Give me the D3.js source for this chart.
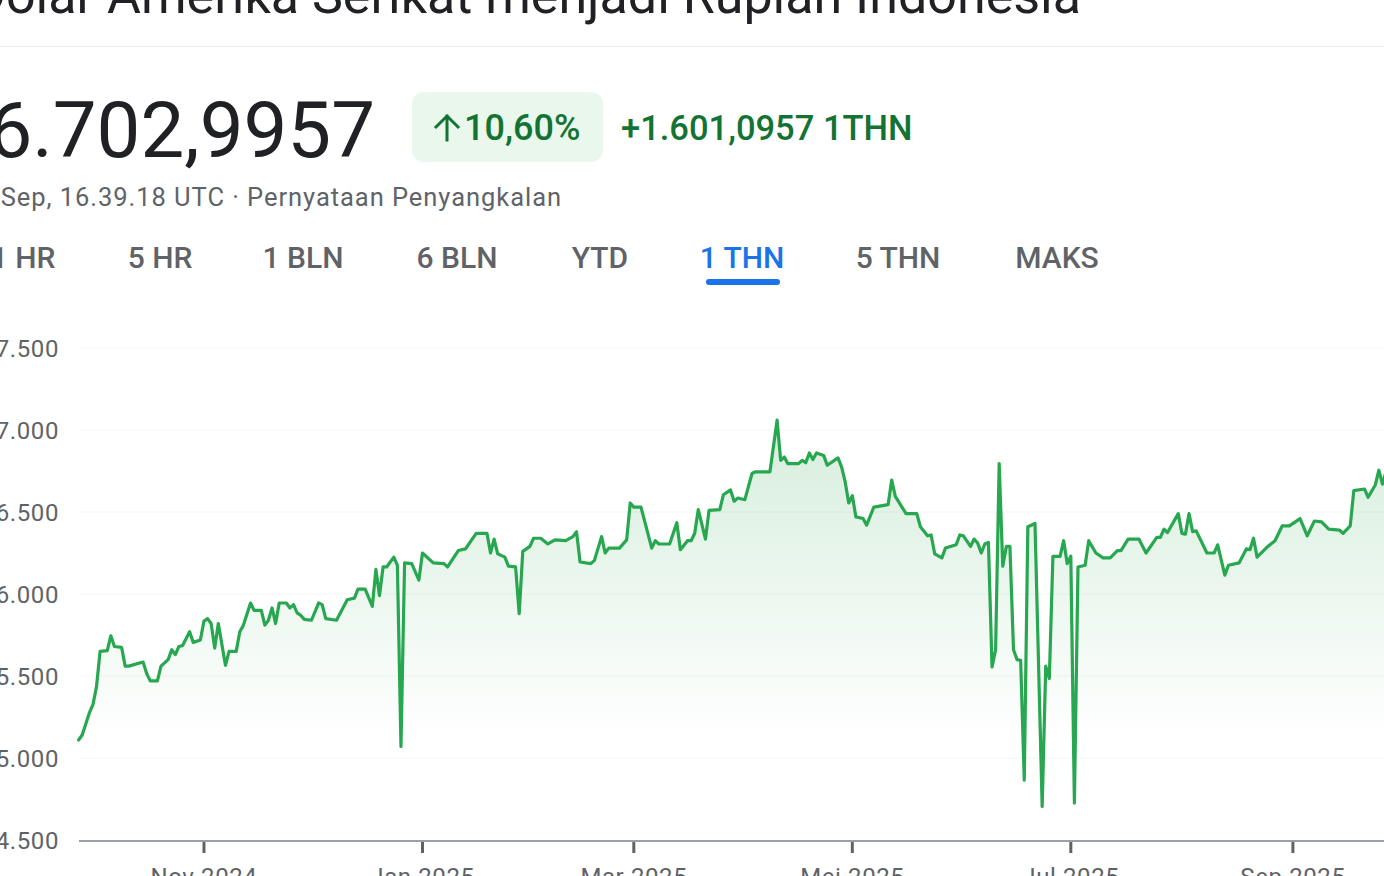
<!DOCTYPE html>
<html>
<head>
<meta charset="utf-8">
<script src="https://cdn.jsdelivr.net/npm/d3@7"></script>
<style>
  html, body { margin: 0; padding: 0; background: #fff; overflow: hidden; }
  svg { display: block; font-family: Roboto, "Noto Sans", sans-serif; }
</style>
</head>
<body>
<svg id="chart" width="1384" height="876"></svg>
<script>
// ---- data ----
const titleText = "Dolar Amerika Serikat menjadi Rupiah Indonesia";
const priceText = "16.702,9957";
const changePctText = "10,60%";
const changeAbsText = "+1.601,0957 1THN";
const subText = "26 Sep, 16.39.18 UTC · Pernyataan Penyangkalan";
const tabs = ["1 HR", "5 HR", "1 BLN", "6 BLN", "YTD", "1 THN", "5 THN", "MAKS"];
const activeTab = "1 THN";

const dates = [
"2024-09-27","2024-09-28","2024-09-30","2024-10-01","2024-10-02","2024-10-03","2024-10-05","2024-10-06","2024-10-07","2024-10-09",
"2024-10-10","2024-10-11","2024-10-15","2024-10-16","2024-10-17","2024-10-19","2024-10-20","2024-10-22","2024-10-23","2024-10-24",
"2024-10-25","2024-10-26","2024-10-28","2024-10-29","2024-10-31","2024-11-01","2024-11-02","2024-11-03","2024-11-04","2024-11-05",
"2024-11-07","2024-11-08","2024-11-10","2024-11-11","2024-11-12","2024-11-14","2024-11-15","2024-11-17","2024-11-18","2024-11-19",
"2024-11-20","2024-11-21","2024-11-22","2024-11-24","2024-11-25","2024-11-26","2024-11-27","2024-11-28","2024-11-29","2024-12-01",
"2024-12-03","2024-12-04","2024-12-05","2024-12-08","2024-12-11","2024-12-13","2024-12-14","2024-12-16","2024-12-18","2024-12-19",
"2024-12-20","2024-12-21","2024-12-22","2024-12-24","2024-12-25","2024-12-26","2024-12-27","2024-12-29","2024-12-31","2025-01-01",
"2025-01-04","2025-01-07","2025-01-08","2025-01-11","2025-01-13","2025-01-16","2025-01-19","2025-01-20","2025-01-21","2025-01-22",
"2025-01-24","2025-01-25","2025-01-27","2025-01-28","2025-01-29","2025-01-31","2025-02-01","2025-02-03","2025-02-05","2025-02-07",
"2025-02-10","2025-02-12","2025-02-13","2025-02-14","2025-02-17","2025-02-18","2025-02-20","2025-02-21","2025-02-22","2025-02-25",
"2025-02-27","2025-02-28","2025-03-01","2025-03-03","2025-03-06","2025-03-07","2025-03-08","2025-03-11","2025-03-13","2025-03-14",
"2025-03-16","2025-03-17","2025-03-18","2025-03-19","2025-03-21","2025-03-22","2025-03-25","2025-03-26","2025-03-28","2025-03-29",
"2025-03-30","2025-04-01","2025-04-03","2025-04-04","2025-04-08","2025-04-10","2025-04-11","2025-04-12","2025-04-13","2025-04-16",
"2025-04-17","2025-04-18","2025-04-19","2025-04-20","2025-04-21","2025-04-23","2025-04-24","2025-04-27","2025-04-28","2025-04-29",
"2025-04-30","2025-05-01","2025-05-02","2025-05-04","2025-05-05","2025-05-07","2025-05-11","2025-05-12","2025-05-13","2025-05-16",
"2025-05-19","2025-05-20","2025-05-22","2025-05-23","2025-05-24","2025-05-26","2025-05-27","2025-05-30","2025-05-31","2025-06-01",
"2025-06-03","2025-06-04","2025-06-05","2025-06-06","2025-06-07","2025-06-08","2025-06-09","2025-06-10","2025-06-11","2025-06-12",
"2025-06-13","2025-06-14","2025-06-15","2025-06-16","2025-06-17","2025-06-18","2025-06-19","2025-06-21","2025-06-23","2025-06-24",
"2025-06-25","2025-06-26","2025-06-28","2025-06-29","2025-06-30","2025-07-01","2025-07-02","2025-07-03","2025-07-05","2025-07-06",
"2025-07-08","2025-07-10","2025-07-12","2025-07-14","2025-07-15","2025-07-17","2025-07-20","2025-07-22","2025-07-25","2025-07-26",
"2025-07-27","2025-07-28","2025-07-31","2025-08-01","2025-08-02","2025-08-03","2025-08-04","2025-08-05","2025-08-08","2025-08-10",
"2025-08-11","2025-08-13","2025-08-14","2025-08-17","2025-08-19","2025-08-20","2025-08-21","2025-08-22","2025-08-25","2025-08-27",
"2025-08-29","2025-08-31","2025-09-03","2025-09-05","2025-09-07","2025-09-09","2025-09-11","2025-09-14","2025-09-15","2025-09-17",
"2025-09-18","2025-09-21","2025-09-22","2025-09-24","2025-09-25","2025-09-26","2025-09-27","2025-09-28"
];
const rates = [
15110,15140,15275,15325,15435,15650,15655,15745,15680,15675,
15560,15560,15585,15515,15470,15470,15560,15600,15660,15630,
15680,15685,15770,15705,15720,15835,15850,15820,15670,15820,
15565,15650,15650,15770,15810,15945,15900,15900,15810,15840,
15915,15820,15945,15945,15915,15935,15885,15870,15845,15840,
15945,15935,15850,15840,15965,15975,16030,16030,15925,16150,
15990,16165,16165,16225,16175,15070,16190,16185,16085,16250,
16190,16185,16165,16265,16275,16370,16370,16250,16335,16245,
16225,16170,16165,15880,16260,16290,16340,16340,16305,16330,
16325,16350,16380,16195,16185,16205,16350,16250,16280,16280,
16330,16555,16530,16530,16280,16325,16305,16305,16435,16270,
16325,16325,16370,16515,16335,16510,16515,16605,16635,16565,
16585,16575,16735,16745,16745,17060,16815,16835,16795,16795,
16815,16800,16860,16820,16860,16845,16785,16830,16775,16685,
16555,16600,16470,16460,16420,16530,16545,16695,16595,16490,
16490,16410,16355,16360,16245,16220,16280,16300,16360,16355,
16290,16335,16310,16250,16305,16315,15555,15660,16795,16170,
16290,16290,15660,15600,15595,14865,16410,16430,14705,15560,
15485,16230,16230,16325,16185,16230,14725,16165,16175,16325,
16250,16220,16220,16265,16265,16335,16335,16250,16345,16345,
16395,16375,16490,16370,16365,16490,16380,16385,16250,16250,
16300,16115,16175,16190,16275,16270,16340,16225,16290,16325,
16415,16415,16460,16355,16445,16440,16395,16390,16370,16415,
16630,16640,16590,16665,16755,16670,16745,16703
];
const yTicks = [14500, 15000, 15500, 16000, 16500, 17000, 17500];
const xTickDates = ["2024-11-01","2025-01-01","2025-03-01","2025-05-01","2025-07-01","2025-09-01"];
const xTickLabels = ["Nov 2024","Jan 2025","Mar 2025","Mei 2025","Jul 2025","Sep 2025"];
const xDomain = ["2024-09-27","2025-09-29"];

// ---- drawing ----
const svg = d3.select("#chart");
const parse = d3.utcParse("%Y-%m-%d");
const series = dates.map((d, i) => ({ date: parse(d), value: rates[i] }));
const idLocale = d3.formatLocale({ decimal: ",", thousands: ".", grouping: [3], currency: ["Rp", ""] });
const fmt = idLocale.format(",");

const x = d3.scaleUtc().domain(xDomain.map(parse)).range([78.6, 1393.2]);
const y = d3.scaleLinear().domain([14500, 17500]).range([840, 348]);

const green = "#137333";
const lineGreen = "#27a74f";
const gray = "#5f6368";

// header
svg.append("text").attr("x", 1081).attr("y", 13).attr("text-anchor", "end")
  .attr("font-size", 52).attr("fill", "#202124").text(titleText);
svg.append("line").attr("x1", 0).attr("x2", 1384).attr("y1", 46.5).attr("y2", 46.5)
  .attr("stroke", "#e8eaed").attr("stroke-width", 1);

svg.append("text").attr("x", 375).attr("y", 157).attr("text-anchor", "end")
  .attr("font-size", 78).attr("fill", "#202124").text(priceText);

svg.append("rect").attr("x", 412).attr("y", 92).attr("width", 191).attr("height", 70).attr("rx", 12)
  .attr("fill", "#e9f7ec");
// arrow icon
svg.append("path").attr("d", "M447,140 L447,116 M436,127 L447,116 L458,127")
  .attr("fill", "none").attr("stroke", green).attr("stroke-width", 3).attr("stroke-linecap", "square");
svg.append("text").attr("x", 464).attr("y", 140).attr("font-size", 36).attr("font-weight", 500)
  .attr("fill", green).text(changePctText);
svg.append("text").attr("x", 621).attr("y", 140).attr("font-size", 34.5).attr("font-weight", 500)
  .attr("fill", green).text(changeAbsText);

svg.append("text").attr("x", 562).attr("y", 206).attr("text-anchor", "end")
  .attr("font-size", 25.5).attr("fill", gray).attr("letter-spacing", 0.95).text(subText);

// tabs
const tabCenters = [23, 160, 303, 457, 600, 742, 898, 1057];
svg.append("g").selectAll("text").data(tabs).join("text")
  .attr("x", (d, i) => tabCenters[i]).attr("y", 268).attr("text-anchor", "middle")
  .attr("font-size", 30).attr("font-weight", 500)
  .attr("fill", d => d === activeTab ? "#1a73e8" : gray).text(d => d);
svg.append("rect").attr("x", 706).attr("y", 279).attr("width", 74).attr("height", 6).attr("rx", 3)
  .attr("fill", "#1a73e8");

// gradient
const defs = svg.append("defs");
const grad = defs.append("linearGradient").attr("id", "fillGrad")
  .attr("gradientUnits", "userSpaceOnUse").attr("x1", 0).attr("x2", 0).attr("y1", 420).attr("y2", 740);
grad.append("stop").attr("offset", 0).attr("stop-color", "#34a853").attr("stop-opacity", 0.2);
grad.append("stop").attr("offset", 1).attr("stop-color", "#34a853").attr("stop-opacity", 0);

// gridlines
svg.append("g").selectAll("line").data(yTicks.filter(t => t > 14500)).join("line")
  .attr("x1", 79).attr("x2", 1384).attr("y1", d => y(d)).attr("y2", d => y(d))
  .attr("stroke", "#f3f4f5").attr("stroke-width", 1);

// y labels
svg.append("g").selectAll("text").data(yTicks).join("text")
  .attr("x", 59).attr("y", d => y(d) + 8.5).attr("text-anchor", "end")
  .attr("font-size", 24).attr("fill", gray).attr("letter-spacing", 0.6).text(d => fmt(d));

// area + line
const area = d3.area().x(d => x(d.date)).y0(y(14500)).y1(d => y(d.value));
svg.append("path").datum(series).attr("d", area).attr("fill", "url(#fillGrad)");
const line = d3.line().x(d => x(d.date)).y(d => y(d.value));
svg.append("path").datum(series).attr("d", line).attr("fill", "none")
  .attr("stroke", lineGreen).attr("stroke-width", 3.2).attr("stroke-linejoin", "round").attr("stroke-linecap", "round");

// x axis
svg.append("line").attr("x1", 79).attr("x2", 1384).attr("y1", 841).attr("y2", 841)
  .attr("stroke", "#9aa0a6").attr("stroke-width", 2);
const xt = svg.append("g").selectAll("g").data(xTickDates).join("g")
  .attr("transform", d => `translate(${x(parse(d))},0)`);
xt.append("line").attr("y1", 842).attr("y2", 853).attr("stroke", gray).attr("stroke-width", 3);
xt.append("text").attr("y", 885).attr("text-anchor", "middle").attr("font-size", 24)
  .attr("letter-spacing", 0.6).attr("fill", gray).text((d, i) => xTickLabels[i]);
</script>
</body>
</html>
